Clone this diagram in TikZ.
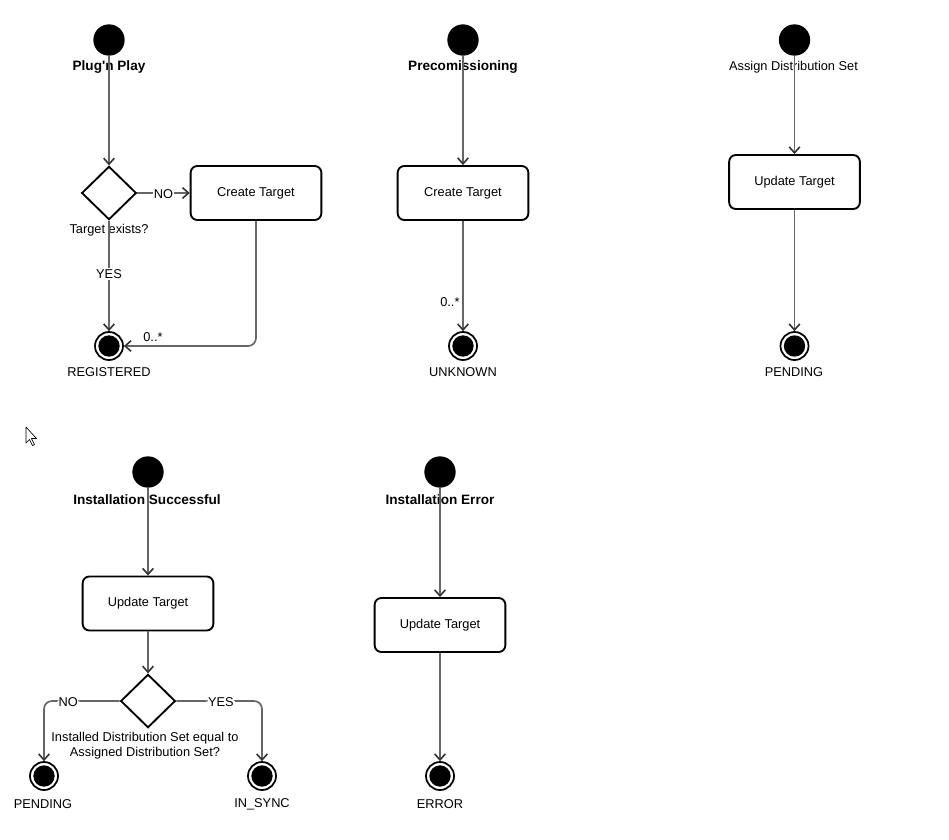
\documentclass[tikz,border=0pt]{standalone}
\usepackage{fontspec}
\setmainfont{Liberation Sans}[Ligatures=TeXOff]
\usepackage{tikz}
\usetikzlibrary{arrows.meta, shapes.geometric, positioning, calc}
\definecolor{flowgray}{HTML}{666666}
\definecolor{tipgray}{HTML}{333333}
\newcommand{\umlfont}{\fontsize{9.6}{11.25}\selectfont}

\tikzset{
  startstate/.style={circle, fill=black, minimum size=23.5pt, inner sep=0pt},
  finalstate/.style={circle, draw=black, line width=1.3pt, fill=white,
    minimum size=21pt, inner sep=0pt,
    path picture={\fill[black] (path picture bounding box.center) circle (8pt);}},
  actionbox/.style={rectangle, rounded corners=5pt, draw=black, line width=1.4pt,
    fill=white, minimum width=98pt, minimum height=40.5pt, font=\umlfont},
  choice/.style={diamond, draw=black, line width=1.4pt, fill=white,
    minimum width=41pt, minimum height=40pt, inner sep=0pt},
  flow/.style={draw=flowgray, line width=1.25pt,
    -{Straight Barb[length=4.5pt, width=8pt, line width=1.2pt, color=tipgray]}},
  guard/.style={fill=white, inner sep=1pt, font=\umlfont},
  caption/.style={inner sep=1pt, font=\umlfont},
  trigger/.style={inner sep=1pt, font=\fontsize{10.2}{12}\selectfont\bfseries}
}

\begin{document}
\begin{tikzpicture}[x=0.75pt, y=-0.75pt]
  \useasboundingbox (0,0) rectangle (949,839);

  %% Plug'n Play
  \node[startstate] (pnpStart) at (109,40) {};
  \node[trigger] (pnpLabel) at (109,67.5) {Plug'n Play};
  \node[choice] (pnpCheck) at (109,193) {};
  \node[caption] (pnpQuestion) at (109,230) {Target exists?};
  \node[actionbox] (pnpCreate) at (256,193) {Create Target};
  \node[finalstate] (pnpDone) at (109,346) {};
  \node[caption] (pnpState) at (109,372) {REGISTERED};

  \draw[flow] (pnpStart) -- (pnpCheck);
  \draw[flow] (pnpCheck) -- node[guard, yshift=-1pt] (pnpNo) {NO} (pnpCreate);
  \draw[flow] (pnpCheck) -- node[guard, pos=0.48] (pnpYes) {YES} (pnpDone);
  \draw[flow, rounded corners=6pt] (pnpCreate) |-
    node[caption, pos=0.89, above=2pt] (pnpMult) {0..*} (pnpDone);

  %% Precomissioning
  \node[startstate] (precStart) at (463,40) {};
  \node[trigger] (precLabel) at (463,67.5) {Precomissioning};
  \node[actionbox] (precCreate) at (463,193) {Create Target};
  \node[finalstate] (precDone) at (463,346) {};
  \node[caption] (precState) at (463,372) {UNKNOWN};

  \draw[flow] (precStart) -- (precCreate);
  \draw[flow] (precCreate) --
    node[caption, pos=0.74, left=1pt] (precMult) {0..*} (precDone);

  %% Assign Distribution Set
  \node[startstate] (assignStart) at (794.5,40) {};
  \node[caption] (assignLabel) at (793.5,67.5) {Assign Distribution Set};
  \node[actionbox] (assignUpdate) at (794.5,182) {Update Target};
  \node[finalstate] (assignDone) at (794.5,346) {};
  \node[caption] (assignState) at (794,372) {PENDING};

  \draw[flow] (assignStart) -- (assignUpdate);
  \draw[flow] (assignUpdate) -- (assignDone);

  %% Installation Successful
  \node[startstate] (okStart) at (148,472) {};
  \node[trigger] (okLabel) at (147,499.5) {Installation Successful};
  \node[actionbox] (okUpdate) at (148,603.5) {Update Target};
  \node[choice] (okCheck) at (148,701) {};
  \node[caption, align=center] (okQuestion) at (145,746)
    {Installed Distribution Set equal to\\Assigned Distribution Set?};
  \node[finalstate] (okPending) at (44,776) {};
  \node[caption] (okPendingState) at (43,804) {PENDING};
  \node[finalstate] (okSync) at (262,776) {};
  \node[caption] (okSyncState) at (262,804) {IN\_SYNC};

  \draw[flow] (okStart) -- (okUpdate);
  \draw[flow] (okUpdate) -- (okCheck);
  \draw[flow, rounded corners=6pt] (okCheck) -|
    node[guard, pos=0.34, yshift=-1pt] (okNo) {NO} (okPending);
  \draw[flow, rounded corners=6pt] (okCheck) -|
    node[guard, pos=0.26, yshift=-1pt] (okYes) {YES} (okSync);

  %% Installation Error
  \node[startstate] (errStart) at (440,472) {};
  \node[trigger] (errLabel) at (440,499.5) {Installation Error};
  \node[actionbox] (errUpdate) at (440,625) {Update Target};
  \node[finalstate] (errDone) at (440,776) {};
  \node[caption] (errState) at (440,804) {ERROR};

  \draw[flow] (errStart) -- (errUpdate);
  \draw[flow] (errUpdate) -- (errDone);

  %% mouse pointer
  \draw[fill=white, line width=0.5pt, line join=round]
    (26,427) -- (26,443) -- (29.5,439.5) -- (32.5,445.5) -- (34.5,444.5)
    -- (31.5,438.5) -- (36.5,438.5) -- cycle;
\end{tikzpicture}
\end{document}
